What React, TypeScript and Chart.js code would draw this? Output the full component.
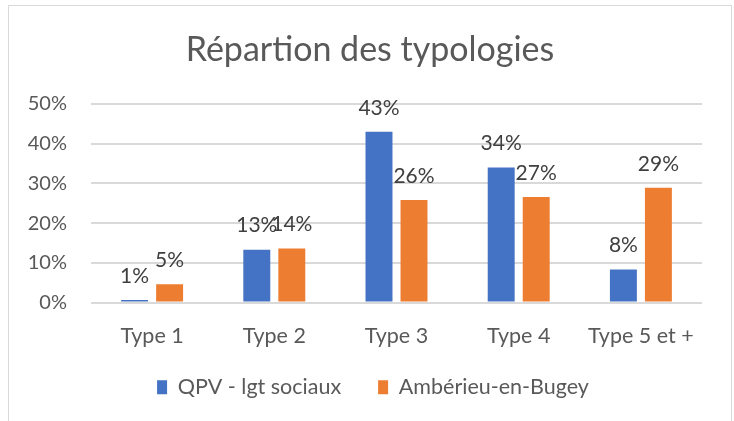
import { useEffect, useRef } from 'react';
import { Chart, registerables } from 'chart.js';
Chart.register(...registerables);

const categories = ['Type 1', 'Type 2', 'Type 3', 'Type 4', 'Type 5 et +'];
const qpvValues = [0.6, 13.3, 43.0, 34.0, 8.3];
const amberieuValues = [4.6, 13.6, 25.8, 26.6, 28.9];
const seriesNames = ['QPV - lgt sociaux', 'Ambérieu-en-Bugey'];
const yMax = 50;
const yStep = 10;

const FONT = 'Lato, "Noto Sans", sans-serif';

const framePlugin = {
  id: 'frame',
  beforeDraw(chart: any) {
    const ctx = chart.ctx;
    ctx.save();
    ctx.fillStyle = '#ffffff';
    ctx.fillRect(0, 0, chart.width, chart.height);
    ctx.strokeStyle = '#D9D9D9';
    ctx.lineWidth = 1;
    ctx.strokeRect(8.5, 5.5, 723, 440);
    ctx.restore();
  },
};

// Center the title and legend on the whole frame (as in the original), not on the plot box
const shiftPlugin = {
  id: 'blockShift',
  afterLayout(chart: any) {
    const lg = chart.legend;
    if (lg) {
      lg.top -= 9;
      lg.bottom -= 9;
      lg.left += 17;
      lg.right += 17;
    }
    const tb = chart.titleBlock;
    if (tb) {
      tb.left += 14;
      tb.right += 14;
    }
  },
};

const labelPlugin = {
  id: 'barLabels',
  afterDatasetsDraw(chart: any) {
    const ctx = chart.ctx;
    ctx.save();
    ctx.font = `21px ${FONT}`;
    ctx.fillStyle = '#404040';
    ctx.textAlign = 'center';
    ctx.textBaseline = 'middle';
    chart.data.datasets.forEach((ds: any, i: number) => {
      const meta = chart.getDatasetMeta(i);
      meta.data.forEach((bar: any, j: number) => {
        const v = ds.data[j] as number;
        ctx.fillText(Math.round(v) + '%', bar.x, bar.y - 24);
      });
    });
    ctx.restore();
  },
};

export default function App() {
  const ref = useRef<HTMLCanvasElement>(null);
  useEffect(() => {
    document.body.style.margin = '0';
    document.body.style.overflow = 'hidden';
    const chart = new Chart(ref.current!, {
      type: 'bar',
      data: {
        labels: categories,
        datasets: [
          { label: seriesNames[0], data: qpvValues, backgroundColor: '#4472C4', categoryPercentage: 0.573, barPercentage: 0.77 },
          { label: seriesNames[1], data: amberieuValues, backgroundColor: '#ED7D31', categoryPercentage: 0.573, barPercentage: 0.77 },
        ],
      },
      options: {
        animation: false,
        responsive: true,
        maintainAspectRatio: false,
        layout: { padding: { left: 10, right: 32, top: 0, bottom: 4 } },
        plugins: {
          title: {
            display: true,
            text: 'Répartion des typologies',
            color: '#595959',
            font: { family: FONT, size: 34, weight: 'normal' },
            padding: { top: 30, bottom: 33.2 },
          },
          legend: {
            position: 'bottom',
            labels: {
              boxWidth: 10,
              boxHeight: 14,
              color: '#595959',
              font: { family: FONT, size: 21.5 },
              padding: 37,
            },
          },
          tooltip: { enabled: false },
        },
        scales: {
          x: {
            grid: { display: false, drawTicks: false },
            border: { display: false },
            ticks: { color: '#595959', font: { family: FONT, size: 21.5 }, padding: 21 },
            afterFit(scale: any) { scale.height = 46; },
          },
          y: {
            min: 0,
            max: yMax,
            grid: { color: '#D9D9D9', drawTicks: false, lineWidth: 2 },
            border: { display: false },
            ticks: {
              stepSize: yStep,
              color: '#595959',
              font: { family: FONT, size: 20 },
              padding: 24,
              callback: (v: any) => v + '%',
            },
            afterFit(scale: any) { scale.width = 81; },
          },
        },
      },
      plugins: [framePlugin, labelPlugin, shiftPlugin],
    });
    return () => chart.destroy();
  }, []);
  return (
    <div style={{ width: 734, height: 421, position: 'relative' }}>
      <canvas ref={ref} />
    </div>
  );
}
